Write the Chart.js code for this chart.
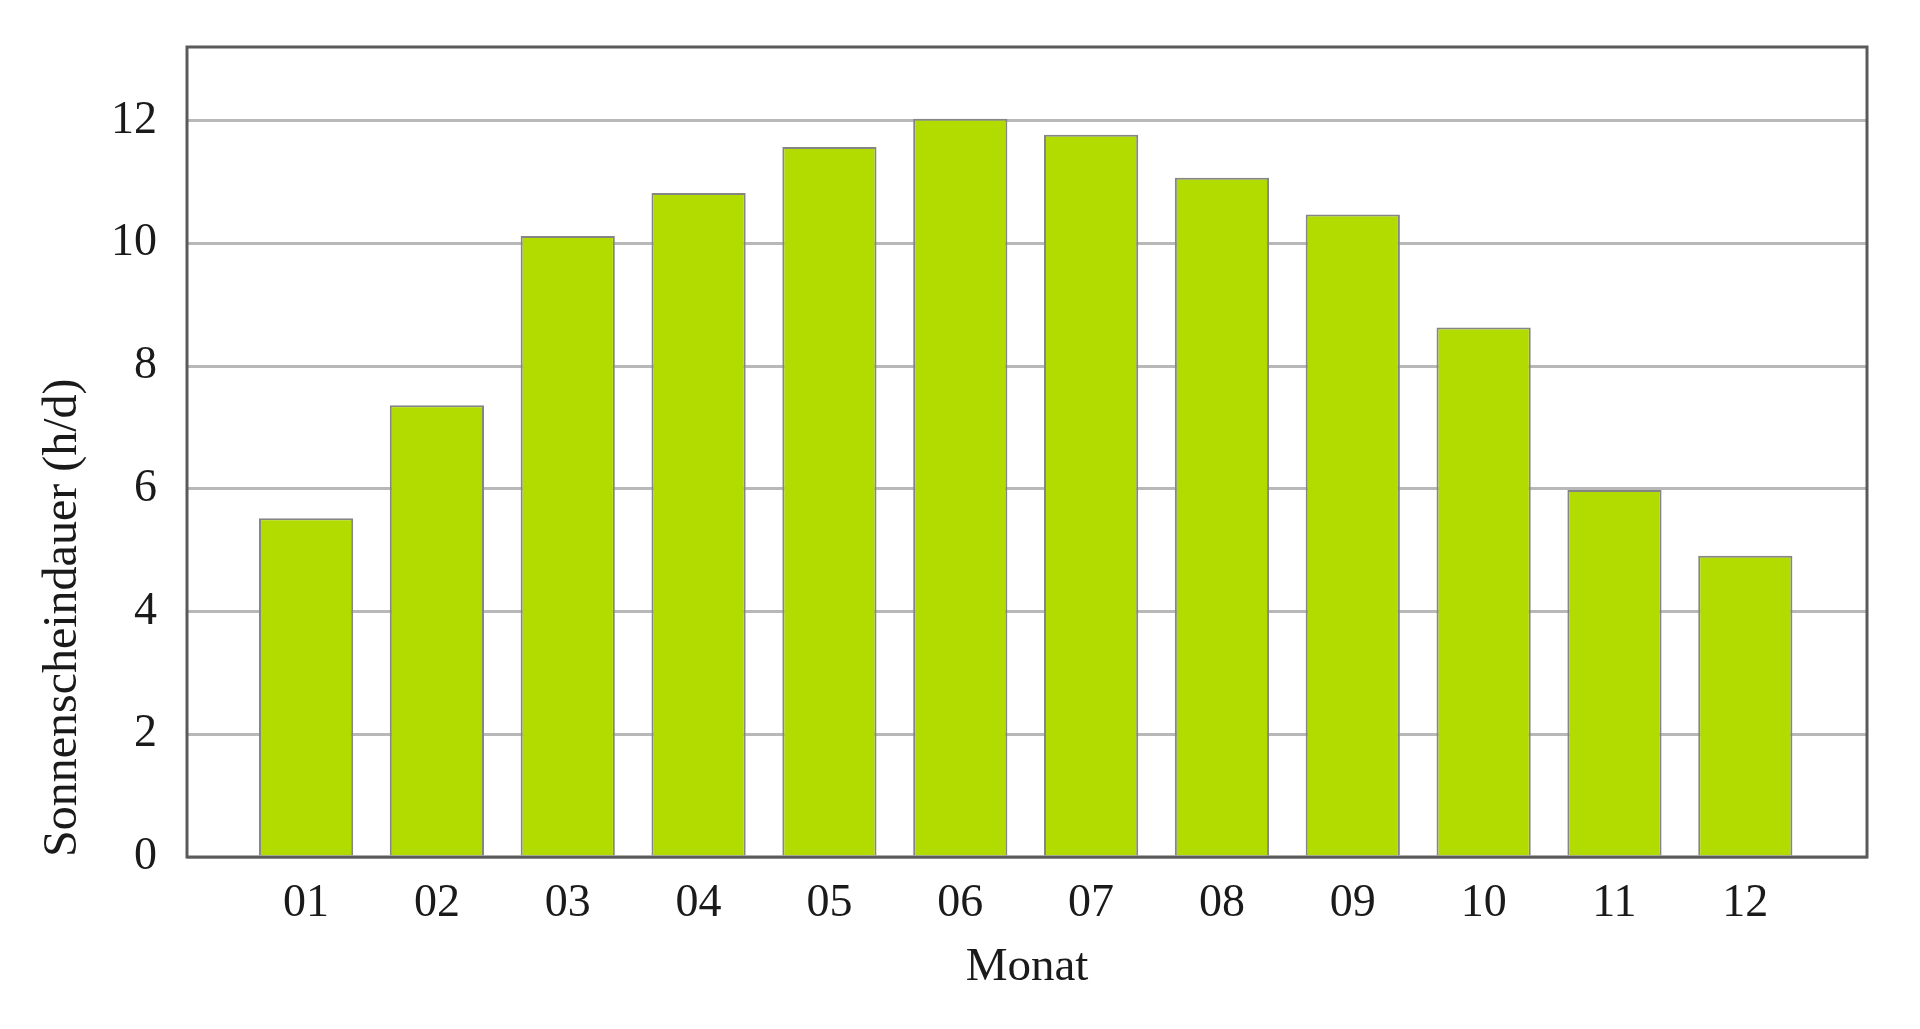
<!DOCTYPE html>
<html>
<head>
<meta charset="utf-8">
<script src="https://cdn.jsdelivr.net/npm/chart.js@4.4.1/dist/chart.umd.min.js"></script>
<style>
  html, body { margin: 0; padding: 0; background: #fff; }
  #wrap { width: 1920px; height: 1029px; }
</style>
</head>
<body>
<div id="wrap"><canvas id="sonneChart" width="1920" height="1029"></canvas></div>
<script>
// Sonnenscheindauer pro Monat (h/d)
const monate = ["01", "02", "03", "04", "05", "06", "07", "08", "09", "10", "11", "12"];
const stunden = [5.52, 7.36, 10.12, 10.82, 11.57, 12.03, 11.77, 11.07, 10.47, 8.63, 5.98, 4.91];
const yTicks = [0, 2, 4, 6, 8, 10, 12];

const schrift = "'Liberation Serif', 'DejaVu Serif', serif";

// ── Rahmen um die Plotfläche ──
const rahmen = {
    id: "rahmen",
    afterDraw(chart) {
        const { ctx, chartArea: a } = chart;
        ctx.save();
        ctx.strokeStyle = "#5a5a5a";
        ctx.lineWidth = 3;
        ctx.strokeRect(a.left, a.top, a.right - a.left, a.bottom - a.top);
        ctx.restore();
    }
};

const ctx = document.getElementById("sonneChart").getContext("2d");

new Chart(ctx, {
    type: "bar",
    data: {
        datasets: [{
            label: "Sonnenscheindauer (h/d)",
            data: monate.map((m, i) => ({ x: i + 1, y: stunden[i] })),
            backgroundColor: "#b2dc00",
            borderColor: "#858585",
            borderWidth: 2,
            barPercentage: 0.72,
            categoryPercentage: 1
        }]
    },
    options: {
        responsive: false,
        animation: false,
        layout: { padding: { left: 0, right: 53, top: 47, bottom: 0 } },
        plugins: {
            legend: { display: false },
            tooltip: { enabled: false }
        },
        scales: {
            x: {
                type: "linear",
                offset: false,
                min: 0.09,
                max: 12.93,
                grid: { display: false },
                border: { display: false },
                afterBuildTicks: (scale) => {
                    scale.ticks = monate.map((m, i) => ({ value: i + 1 }));
                },
                afterFit: (scale) => { scale.height = 172; },
                ticks: {
                    padding: 11,
                    maxRotation: 0,
                    color: "#1a1a1a",
                    font: { family: schrift, size: 46 },
                    callback: (v) => monate[Math.round(v) - 1]
                },
                title: {
                    display: true,
                    text: "Monat",
                    color: "#1a1a1a",
                    font: { family: schrift, size: 47 },
                    padding: { top: 0, bottom: 33 }
                }
            },
            y: {
                min: 0,
                max: 13.2,
                grid: { color: "#b8b8b8", lineWidth: 3, drawTicks: false },
                border: { display: false },
                afterBuildTicks: (scale) => {
                    scale.ticks = yTicks.map(v => ({ value: v }));
                },
                afterFit: (scale) => {
                    scale.width = 187;
                    scale.paddingTop = 0;
                    scale.paddingBottom = 0;
                },
                ticks: {
                    padding: 30,
                    color: "#1a1a1a",
                    font: { family: schrift, size: 46 }
                },
                title: {
                    display: true,
                    text: "Sonnenscheindauer (h/d)",
                    align: "start",
                    color: "#1a1a1a",
                    font: { family: schrift, size: 48 },
                    padding: { top: 35, bottom: 0 }
                }
            }
        }
    },
    plugins: [rahmen]
});
</script>
</body>
</html>
